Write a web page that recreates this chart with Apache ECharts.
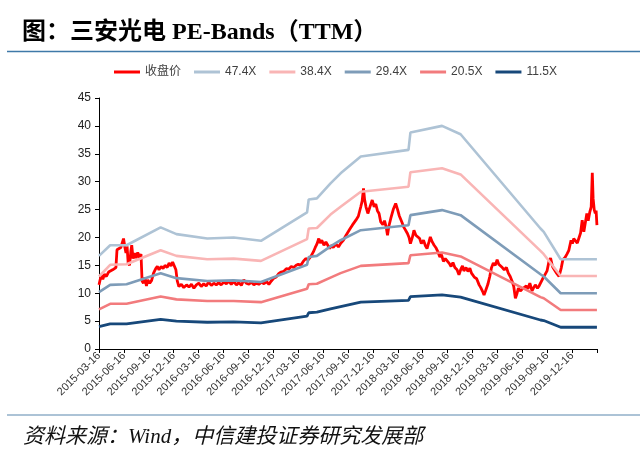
<!DOCTYPE html>
<html>
<head>
<meta charset="utf-8">
<script src="https://cdn.jsdelivr.net/npm/echarts@6/dist/echarts.min.js"></script>
<style>
html,body{margin:0;padding:0;background:#fff;}
#chart{width:640px;height:471px;}
</style>
</head>
<body>
<div id="chart"></div>
<script>
// ---------- data ----------
const tickLabels = ['2015-03-16','2015-06-16','2015-09-16','2015-12-16','2016-03-16','2016-06-16',
  '2016-09-16','2016-12-16','2017-03-16','2017-06-16','2017-09-16','2017-12-16','2018-03-16',
  '2018-06-16','2018-09-16','2018-12-16','2019-03-16','2019-06-16','2019-09-16','2019-12-16'];

const seriesNames = ['收盘价','47.4X','38.4X','29.4X','20.5X','11.5X'];

const priceDates = [
 '2015-03-16','2015-03-21','2015-03-25','2015-03-30','2015-04-05','2015-04-12','2015-04-20','2015-04-26',
 '2015-05-05','2015-05-12','2015-05-17','2015-05-21','2015-05-28','2015-06-04','2015-06-10','2015-06-14',
 '2015-06-19','2015-06-23','2015-06-27','2015-07-01','2015-07-06','2015-07-11','2015-07-14','2015-07-19',
 '2015-07-24','2015-07-30','2015-08-05','2015-08-11','2015-08-17','2015-08-21','2015-08-26','2015-08-31',
 '2015-09-06','2015-09-11','2015-09-18','2015-09-25','2015-10-02','2015-10-10','2015-10-16','2015-10-22',
 '2015-10-30','2015-11-06','2015-11-13','2015-11-21','2015-11-28','2015-12-05','2015-12-11','2015-12-18',
 '2015-12-23','2015-12-28','2016-01-03','2016-01-12','2016-01-21','2016-01-31','2016-02-09','2016-02-18',
 '2016-02-27','2016-03-07','2016-03-16','2016-03-25','2016-04-03','2016-04-12','2016-04-21','2016-05-01',
 '2016-05-10','2016-05-19','2016-05-28','2016-06-06','2016-06-16','2016-06-25','2016-07-04','2016-07-13',
 '2016-07-22','2016-08-01','2016-08-10','2016-08-19','2016-08-28','2016-09-06','2016-09-16','2016-09-25',
 '2016-10-04','2016-10-13','2016-10-22','2016-11-01','2016-11-10','2016-11-19','2016-11-28','2016-12-07',
 '2016-12-16','2016-12-25','2017-01-03','2017-01-12','2017-01-21','2017-01-31','2017-02-09','2017-02-18',
 '2017-02-27','2017-03-08','2017-03-16','2017-03-25','2017-04-03','2017-04-12','2017-04-21','2017-05-01',
 '2017-05-10','2017-05-17','2017-05-23','2017-05-30','2017-06-04','2017-06-10','2017-06-18','2017-06-25',
 '2017-07-02','2017-07-09','2017-07-15','2017-07-22','2017-08-01','2017-08-10','2017-08-19','2017-08-28',
 '2017-09-06','2017-09-11','2017-09-21','2017-09-30','2017-10-06','2017-10-13','2017-10-22','2017-10-31',
 '2017-11-05','2017-11-10','2017-11-14','2017-11-19','2017-11-26','2017-12-03','2017-12-12','2017-12-19',
 '2017-12-25','2017-12-31','2018-01-06','2018-01-12','2018-01-20','2018-01-26','2018-02-01','2018-02-06',
 '2018-02-11','2018-02-18','2018-02-27','2018-03-08','2018-03-15','2018-03-21','2018-03-27','2018-04-01',
 '2018-04-06','2018-04-12','2018-04-20','2018-04-26','2018-05-01','2018-05-08','2018-05-14','2018-05-21',
 '2018-05-28','2018-06-04','2018-06-10','2018-06-18','2018-06-25','2018-07-01','2018-07-08','2018-07-13',
 '2018-07-20','2018-07-27','2018-08-02','2018-08-10','2018-08-17','2018-08-23','2018-08-30','2018-09-06',
 '2018-09-13','2018-09-21','2018-09-27','2018-10-04','2018-10-11','2018-10-19','2018-10-26','2018-11-02',
 '2018-11-08','2018-11-13','2018-11-21','2018-11-28','2018-12-05','2018-12-11','2018-12-21','2018-12-30',
 '2019-01-08','2019-01-14','2019-01-21','2019-01-26','2019-02-01','2019-02-09','2019-02-16','2019-02-22',
 '2019-03-01','2019-03-08','2019-03-15','2019-03-21','2019-03-27','2019-04-03','2019-04-10','2019-04-18',
 '2019-04-25','2019-05-02','2019-05-10','2019-05-15','2019-05-21','2019-05-26','2019-06-01','2019-06-08',
 '2019-06-16','2019-06-23','2019-06-30','2019-07-06','2019-07-13','2019-07-21','2019-07-27','2019-08-02',
 '2019-08-10','2019-08-16','2019-08-21','2019-08-28','2019-09-06','2019-09-14','2019-09-21','2019-09-27',
 '2019-10-04','2019-10-11','2019-10-19','2019-10-28','2019-11-05','2019-11-11','2019-11-19','2019-11-26',
 '2019-12-03','2019-12-11','2019-12-16','2019-12-21','2019-12-28','2020-01-03','2020-01-09','2020-01-15',
 '2020-01-21','2020-01-27','2020-02-01','2020-02-07','2020-02-12','2020-02-18','2020-02-23','2020-02-27',
 '2020-03-01','2020-03-05','2020-03-09','2020-03-12','2020-03-15'];

const priceValues = [
 11.5,12.6,13.3,12.5,13.4,13.0,13.8,13.6,
 14.2,14.0,14.6,17.8,17.6,18.2,18.0,19.8,
 18.2,17.2,18.4,15.4,15.0,17.6,18.6,16.2,
 17.2,16.3,17.3,16.4,17.0,12.2,11.8,12.8,
 11.3,12.4,11.8,12.3,13.6,14.4,14.8,14.2,
 14.8,14.4,15.0,14.6,15.4,14.9,15.6,14.8,
 14.2,12.2,11.2,11.6,11.0,11.5,11.1,11.6,
 10.9,11.5,11.8,11.2,11.7,11.3,12.0,11.4,
 11.8,11.5,11.9,11.5,12.0,11.7,12.2,11.6,
 12.1,11.5,11.9,11.4,12.4,11.8,11.6,12.0,
 11.5,11.8,11.6,12.0,11.7,12.1,11.6,12.2,
 12.7,12.9,13.5,13.8,13.9,14.4,14.3,14.8,
 14.6,15.0,15.2,15.0,15.7,16.2,16.0,16.6,
 17.4,18.2,18.8,19.8,19.0,19.5,18.6,19.2,
 18.6,18.0,18.6,18.2,18.8,18.3,19.0,19.5,
 20.3,20.7,21.5,22.2,22.5,23.1,23.8,25.5,
 26.5,28.8,26.8,25.5,24.3,25.4,26.7,25.5,
 26.0,24.8,24.3,22.8,22.3,23.0,21.9,20.4,
 22.0,23.4,25.0,26.1,25.0,23.9,24.2,22.6,
 21.9,21.4,20.7,20.0,18.9,20.0,21.3,20.4,
 20.7,19.8,18.9,19.5,18.5,18.0,19.2,20.1,
 19.2,18.6,18.2,17.4,16.5,16.9,15.7,16.2,
 16.0,15.3,14.8,15.5,14.6,14.2,13.3,14.3,
 14.9,14.0,14.6,13.9,14.5,13.6,12.9,12.6,
 11.5,11.0,10.3,9.7,10.5,11.6,13.0,14.5,
 15.4,15.0,16.0,15.2,15.0,14.6,14.2,14.6,
 13.6,13.0,12.0,11.2,9.1,9.8,10.9,10.4,
 10.8,10.6,11.3,10.8,11.8,10.4,11.0,11.5,
 10.9,11.3,11.8,12.5,13.3,14.0,15.7,16.3,
 14.8,14.2,13.6,13.0,14.5,16.0,16.4,17.0,
 17.7,19.5,18.9,19.8,19.5,19.0,19.9,20.8,
 23.1,21.0,22.5,24.3,23.0,24.6,25.5,31.6,
 27.0,25.0,24.3,24.8,22.2];

const bandDates = ['2015-03-16','2015-04-26','2015-06-25','2015-10-28','2015-12-25','2016-04-16',
  '2016-07-22','2016-10-30','2017-04-17','2017-04-23','2017-05-23','2017-07-12','2017-08-18',
  '2017-10-31','2018-04-24','2018-05-01','2018-08-25','2018-11-01','2019-08-21','2019-09-02',
  '2019-11-03','2020-03-15'];
const band474 = [16.7,18.6,18.6,21.8,20.6,19.8,20.0,19.4,24.5,26.8,27.0,29.7,31.5,34.5,35.7,38.8,40.0,38.5,21.6,21.0,16.1,16.1];
const band384 = [13.0,15.1,15.2,17.7,16.7,16.1,16.2,15.8,19.7,21.6,21.7,24.1,25.5,28.2,29.1,31.7,32.4,31.3,17.6,17.0,13.1,13.1];
const band294 = [10.2,11.5,11.6,13.6,12.7,12.2,12.3,12.0,15.1,16.5,16.7,18.4,19.5,21.3,22.2,24.0,24.9,24.0,13.4,13.0,10.0,10.0];
const band205 = [7.1,8.1,8.1,9.4,8.9,8.6,8.6,8.4,10.8,11.6,11.7,12.8,13.6,14.9,15.4,16.8,17.3,16.6,9.3,9.1,7.0,7.0];
const band115 = [4.0,4.5,4.5,5.3,5.0,4.8,4.85,4.7,5.9,6.5,6.6,7.2,7.6,8.4,8.7,9.4,9.7,9.3,5.2,5.1,3.9,3.9];

const colors = ['#FF0000','#AEC3D5','#F9B5B5','#7E9CB8','#F27B7D','#17487A'];
const widths = [2.8,2.6,2.6,2.6,2.6,2.8];

// ---------- helpers ----------
const BASE = Date.UTC(2015,2,16);
const QUARTER = 91.3125;
function dayOf(s){const p=s.split('-').map(Number);return (Date.UTC(p[0],p[1]-1,p[2])-BASE)/86400000;}
function pairs(dates, vals){return dates.map((d,i)=>[dayOf(d), vals[i]]);}

const allData = [
  pairs(priceDates, priceValues),
  pairs(bandDates, band474),
  pairs(bandDates, band384),
  pairs(bandDates, band294),
  pairs(bandDates, band205),
  pairs(bandDates, band115)
];

const chart = echarts.init(document.getElementById('chart'), null, {renderer:'canvas'});
const LAT = '"Liberation Sans", Arial, "Noto Sans CJK SC", sans-serif';

chart.setOption({
  animation: false,
  backgroundColor: '#fff',
  legend: {
    data: seriesNames,
    left: 114, top: 66, padding: 0,
    icon: 'rect', itemWidth: 26, itemHeight: 3, itemGap: 13,
    textStyle: {fontSize: 12, color: '#404040', fontFamily: LAT}
  },
  grid: {left: 99, right: 43, top: 98, bottom: 122, containLabel: false},
  xAxis: {
    type: 'value', min: 0, max: QUARTER*20, interval: QUARTER,
    axisLine: {show: true, lineStyle: {color: '#000', width: 1}},
    axisTick: {show: true, inside: false, length: 4, lineStyle: {color: '#000'}},
    splitLine: {show: false},
    axisLabel: {
      rotate: 45, fontSize: 11, margin: 5, color: '#333', fontFamily: LAT,
      formatter: v => tickLabels[Math.round(v/QUARTER)] || ''
    }
  },
  yAxis: {
    type: 'value', min: 0, max: 45, interval: 5,
    axisLine: {show: true, lineStyle: {color: '#000', width: 1}},
    axisTick: {show: true, inside: false, length: 4, lineStyle: {color: '#000'}},
    splitLine: {show: false},
    axisLabel: {fontSize: 12, margin: 8, color: '#222', fontFamily: LAT}
  },
  series: seriesNames.map((n,i)=>({
    name: n, type: 'line', data: allData[i],
    showSymbol: false, symbol: 'none',
    itemStyle: {color: colors[i]},
    lineStyle: {color: colors[i], width: widths[i]},
    z: 2 + i
  })),
  graphic: [
    {type:'text', left: 22, top: 21, style:{text:'图：三安光电 PE-Bands（TTM）', fill:'#000',
      fontSize: 24, fontWeight:'bold', fontFamily:'"Liberation Serif", "Times New Roman", "Noto Sans CJK SC", serif'}},
    {type:'line', shape:{x1:7, y1:51.5, x2:640, y2:51.5}, style:{stroke:'#3F79A8', lineWidth:1.5}},
    {type:'line', shape:{x1:7, y1:415, x2:640, y2:415}, style:{stroke:'#5A87AD', lineWidth:1.2}},
    {type:'text', left: 23, top: 427, style:{text:'资料来源：Wind，中信建投证券研究发展部', fill:'#111',
      fontSize: 21, fontStyle:'italic', fontWeight:'normal', fontFamily:'"Liberation Serif", "Times New Roman", "Noto Sans CJK SC", serif'}}
  ]
});
</script>
</body>
</html>
